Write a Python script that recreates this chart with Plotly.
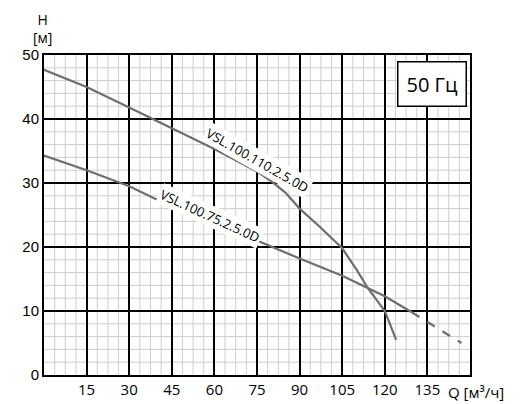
import plotly.graph_objects as go

# upper curve VSL.100.110.2.5.0D
q_110 = [0, 15, 30, 45, 60, 75, 80, 85, 90, 97, 105, 110, 114, 120, 124]
h_110 = [47.7, 45.0, 41.8, 38.5, 35.3, 31.8, 30.3, 28.5, 26.0, 23.2, 19.8, 16.5, 13.6, 10.0, 5.5]
# lower curve VSL.100.75.2.5.0D (solid part, then dashed tail)
q_75 = [0, 15, 30, 45, 60, 75, 90, 105, 120, 129.5]
h_75 = [34.3, 32.0, 29.5, 26.3, 23.5, 21.0, 18.2, 15.5, 12.3, 9.8]
q_75_dash = [129.5, 147]
h_75_dash = [9.8, 5.0]

x_ticks = [15, 30, 45, 60, 75, 90, 105, 120, 135]
y_ticks = [0, 10, 20, 30, 40, 50]

grey = "#6e6e6e"
fig = go.Figure()
fig.add_trace(go.Scatter(x=q_110, y=h_110, mode="lines", line=dict(color=grey, width=2.2)))
fig.add_trace(go.Scatter(x=q_75, y=h_75, mode="lines", line=dict(color=grey, width=2.2)))
fig.add_trace(go.Scatter(x=q_75_dash, y=h_75_dash, mode="lines", line=dict(color=grey, width=2.2, dash="dash")))

# minor grid
for v in range(0, 150, 15):
    for k in (3.75, 7.5, 11.25):
        fig.add_shape(type="line", x0=v + k, x1=v + k, y0=0, y1=50, line=dict(color="#cfcfcf", width=1), layer="below")
for v in range(0, 50, 2):
    if v % 10:
        fig.add_shape(type="line", x0=0, x1=150, y0=v, y1=v, line=dict(color="#cfcfcf", width=1), layer="below")

fig.update_xaxes(range=[0, 150], tickvals=x_ticks, showgrid=True, gridcolor="black", gridwidth=2,
                 zeroline=False, showline=True, linecolor="black", linewidth=2, mirror=True, automargin=False,
                 tickfont=dict(size=15, color="black", family="Open Sans"))
fig.update_yaxes(range=[0, 50], tickvals=y_ticks, showgrid=True, gridcolor="black", gridwidth=2,
                 zeroline=False, showline=True, linecolor="black", linewidth=2, mirror=True, automargin=False,
                 tickfont=dict(size=15, color="black", family="Arial Black, Liberation Sans"))

fig.add_annotation(x=75, y=33.6, text="VSL.100.110.2.5.0D", showarrow=False, textangle=29.5,
                   font=dict(size=13, color="black", family="Open Sans"), bgcolor="white")
fig.add_annotation(x=58.6, y=24.8, text="VSL.100.75.2.5.0D", showarrow=False, textangle=24.6,
                   font=dict(size=13, color="black", family="Open Sans"), bgcolor="white")
fig.add_annotation(x=149, y=45.5, xanchor="right", text="50 Гц", showarrow=False,
                   font=dict(size=20, color="black", family="Open Sans"), bgcolor="white",
                   bordercolor="black", borderwidth=1.5, borderpad=8)
fig.add_annotation(xref="paper", yref="paper", x=-0.03, y=1.02, yanchor="bottom", text="H<br>[м]",
                   showarrow=False, font=dict(size=14, color="black", family="Open Sans"))
fig.add_annotation(x=141.5, yref="paper", y=-0.015, xanchor="left", yanchor="top",
                   text="Q [м³/ч]", showarrow=False, font=dict(size=15, color="black", family="Open Sans"))

fig.update_layout(width=520, height=404, margin=dict(l=36, r=58, t=47, b=37),
                  plot_bgcolor="white", paper_bgcolor="white", showlegend=False)
fig.write_html("out.html")
